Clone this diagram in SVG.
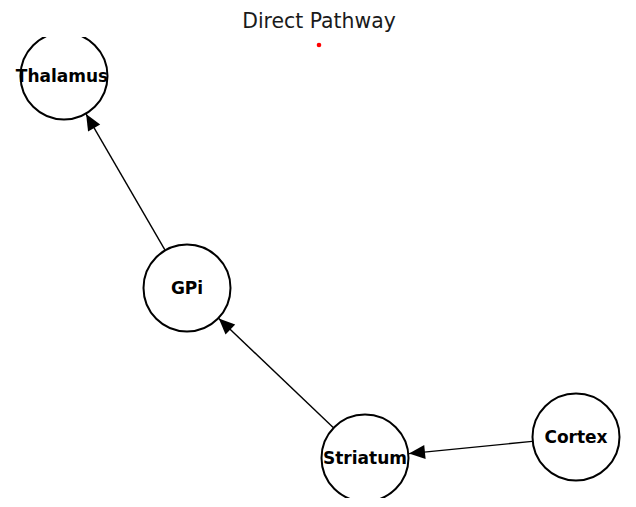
<svg xmlns="http://www.w3.org/2000/svg" width="636" height="507" viewBox="0 0 636 507">
  <style>
    .node circle { fill: #ffffff; stroke: #000000; stroke-width: 2; }
    .node text { font-family: "DejaVu Sans", sans-serif; font-weight: bold; font-size: 17px; text-anchor: middle; fill: #000000; }
    .edge { stroke: #000000; stroke-width: 1.4; fill: none; marker-end: url(#arrow); }
    .title { font-family: "DejaVu Sans", sans-serif; font-size: 20.4px; text-anchor: middle; fill: #1a1a1a; }
  </style>
  <defs>
    <marker id="arrow" markerUnits="userSpaceOnUse" markerWidth="20" markerHeight="18" viewBox="-18 -9 20 18" refX="0" refY="0" orient="auto">
      <path d="M0,0 L-16,-7 L-16,7 Z" fill="#000000"/>
    </marker>
    <clipPath id="axes">
      <rect x="0" y="37" width="636" height="461"/>
    </clipPath>
  </defs>
  <rect width="636" height="507" fill="#ffffff"/>
  <text class="title" x="319" y="28">Direct Pathway</text>
  <circle cx="319" cy="45" r="2.3" fill="#ff0000"/>
  <g clip-path="url(#axes)">
    <g id="connectors">
      <line class="edge" x1="532.2" y1="441.4" x2="409" y2="453.6"/>
      <line class="edge" x1="333.2" y1="427.6" x2="218.8" y2="318.4"/>
      <line class="edge" x1="164.9" y1="249.9" x2="86.1" y2="114.1"/>
    </g>
    <g id="node-thalamus" class="node">
      <circle cx="64" cy="76" r="43.5"/>
      <text x="62" y="82">Thalamus</text>
    </g>
    <g id="node-gpi" class="node">
      <circle cx="187" cy="288" r="43.5"/>
      <text x="187" y="294">GPi</text>
    </g>
    <g id="node-striatum" class="node">
      <circle cx="365" cy="458" r="43.5"/>
      <text x="365" y="464">Striatum</text>
    </g>
    <g id="node-cortex" class="node">
      <circle cx="576" cy="437" r="43.5"/>
      <text x="576" y="443">Cortex</text>
    </g>
  </g>
</svg>
